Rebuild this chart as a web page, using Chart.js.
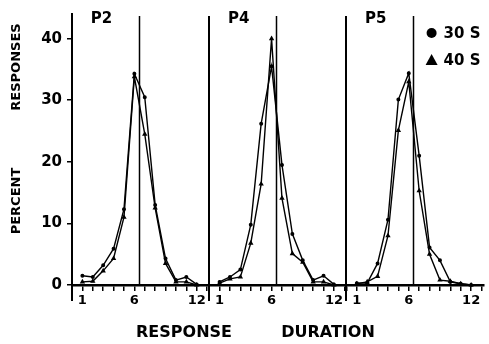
<!DOCTYPE html>
<html>
<head>
<meta charset="utf-8">
<script src="https://cdn.jsdelivr.net/npm/chart.js@4"></script>
<style>
  html, body { margin: 0; padding: 0; background: #fff; }
  #wrap { position: relative; width: 489px; height: 344px; }
</style>
</head>
<body>
<div id="wrap"><canvas id="durChart" width="489" height="344"></canvas></div>
<script>
// response duration bins (x) and tick labels
const durations = [1, 2, 3, 4, 5, 6, 7, 8, 9, 10, 11, 12];
const xTickLabels = [1, 6, 12];
const yTicks = [0, 10, 20, 30, 40];
const panels = ['P2', 'P4', 'P5'];

// percent responses per bin, 30 s and 40 s conditions
const p2_30 = [1.5, 1.3, 3.2, 5.9, 12.3, 34.3, 30.5, 13.0, 4.3, 0.8, 1.3, 0.1];
const p2_40 = [0.5, 0.6, 2.3, 4.3, 11.0, 33.8, 24.5, 12.5, 3.5, 0.5, 0.5, 0.0];
const p4_30 = [0.5, 1.3, 2.5, 9.8, 26.2, 35.5, 19.5, 8.3, 4.0, 0.8, 1.5, 0.1];
const p4_40 = [0.3, 1.0, 1.3, 6.8, 16.4, 40.0, 14.1, 5.1, 3.7, 0.5, 0.5, 0.0];
const p5_30 = [0.3, 0.3, 3.5, 10.6, 30.1, 34.4, 21.0, 6.1, 4.0, 0.5, 0.2, 0.0];
const p5_40 = [0.2, 0.5, 1.4, 8.0, 25.1, 33.0, 15.3, 5.0, 0.8, 0.6, 0.2, 0.0];

const refDuration = 6.4;   // vertical reference line in each panel
const PANEL = 13.2;        // x units per panel

const series30 = [p2_30, p4_30, p5_30];
const series40 = [p2_40, p4_40, p5_40];

const BOLD = 'bold';
const FONT = '"DejaVu Sans", "Liberation Sans", Arial, sans-serif';

// one x axis, panels laid side by side
function toPoints(vals, p) {
    return vals.map((v, i) => ({ x: p * PANEL + durations[i], y: v }));
}

const datasets = [];
panels.forEach((name, p) => {
    datasets.push({
        label: name + ' 30 S',
        data: toPoints(series30[p], p),
        borderColor: '#000', backgroundColor: '#000',
        borderWidth: 1.4, pointStyle: 'circle', pointRadius: 1.3,
        tension: 0, clip: false
    });
    datasets.push({
        label: name + ' 40 S',
        data: toPoints(series40[p], p),
        borderColor: '#000', backgroundColor: '#000',
        borderWidth: 1.4, pointStyle: 'triangle', pointRadius: 1.7,
        tension: 0, clip: false
    });
});

// tick marks every bin, labels only at 1, 6, 12
const xTickList = [];
panels.forEach((name, p) => {
    for (let k = 0; k <= 13; k++) {
        xTickList.push({ value: p * PANEL + k, k: k });
    }
});

const panelDecor = {
    id: 'panelDecor',
    afterDraw(chart) {
        const { ctx, chartArea } = chart;
        const xs = chart.scales.x;
        const top = chartArea.top + 2;
        const bottom = chartArea.bottom;
        ctx.save();
        ctx.strokeStyle = '#000';

        // left axis + panel dividers, running below the baseline
        ctx.lineWidth = 2;
        [0, 1, 2].forEach(p => {
            const px = Math.round(xs.getPixelForValue(p * PANEL));
            ctx.beginPath();
            ctx.moveTo(px, top);
            ctx.lineTo(px, bottom + 16);
            ctx.stroke();
        });

        // reference line
        ctx.lineWidth = 1.5;
        [0, 1, 2].forEach(p => {
            const px = Math.round(xs.getPixelForValue(p * PANEL + refDuration)) + 0.5;
            ctx.beginPath();
            ctx.moveTo(px, top);
            ctx.lineTo(px, bottom);
            ctx.stroke();
        });

        // panel names
        ctx.fillStyle = '#000';
        ctx.font = BOLD + ' 15px ' + FONT;
        ctx.textAlign = 'left';
        ctx.textBaseline = 'middle';
        panels.forEach((name, p) => {
            ctx.fillText(name, xs.getPixelForValue(p * PANEL + 1.8), 19);
        });

        // legend
        const lx = chartArea.right - 52;
        ctx.beginPath();
        ctx.arc(lx, 33, 5, 0, Math.PI * 2);
        ctx.fill();
        ctx.beginPath();
        ctx.moveTo(lx, 54);
        ctx.lineTo(lx + 6, 65);
        ctx.lineTo(lx - 6, 65);
        ctx.closePath();
        ctx.fill();
        ctx.fillText('30 S', lx + 12, 34);
        ctx.fillText('40 S', lx + 12, 61);

        // axis titles
        ctx.font = BOLD + ' 16px ' + FONT;
        ctx.textAlign = 'center';
        ctx.fillText('RESPONSE', 184, 333);
        ctx.fillText('DURATION', 328, 333);

        ctx.font = BOLD + ' 13px ' + FONT;
        ctx.translate(17, 0);
        ctx.rotate(-Math.PI / 2);
        ctx.fillText('RESPONSES', -67, 0);
        ctx.fillText('PERCENT', -201, 0);
        ctx.restore();
    }
};

const config = {
    type: 'line',
    data: { datasets: datasets },
    options: {
        responsive: false,
        animation: false,
        layout: { padding: { top: 10, right: 5, left: 0, bottom: 0 } },
        plugins: {
            legend: { display: false },
            tooltip: { enabled: false }
        },
        scales: {
            x: {
                type: 'linear',
                min: 0,
                max: 3 * PANEL,
                afterBuildTicks(scale) {
                    scale.ticks = xTickList.map(t => ({ value: t.value }));
                },
                afterFit(scale) { scale.height = 59; },
                ticks: {
                    autoSkip: false,
                    maxRotation: 0,
                    padding: 2,
                    color: '#000',
                    font: { family: FONT, size: 13, weight: BOLD },
                    callback: function (value, index) {
                        const k = xTickList[index].k;
                        return xTickLabels.includes(k) ? String(k) : '';
                    }
                },
                grid: { drawOnChartArea: false, drawTicks: true, tickLength: 6, color: '#000', lineWidth: 1.5 },
                border: { display: true, color: '#000', width: 2.5 }
            },
            y: {
                min: 0,
                max: 44,
                afterBuildTicks(scale) {
                    scale.ticks = yTicks.map(v => ({ value: v }));
                },
                afterFit(scale) { scale.width = 72; },
                ticks: {
                    padding: 5,
                    color: '#000',
                    font: { family: FONT, size: 15, weight: BOLD }
                },
                grid: { drawOnChartArea: false, drawTicks: true, tickLength: 5, color: '#000', lineWidth: 1.5 },
                border: { display: true, color: '#000', width: 2 }
            }
        }
    },
    plugins: [panelDecor]
};

const ctx = document.getElementById('durChart').getContext('2d');
const durChart = new Chart(ctx, config);
</script>
</body>
</html>
